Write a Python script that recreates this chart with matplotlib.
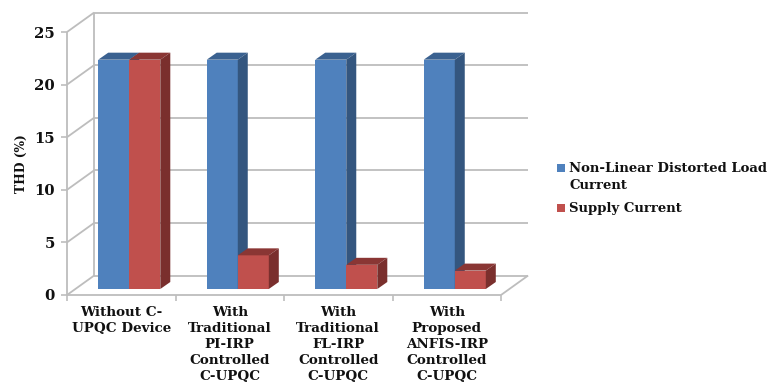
import matplotlib
matplotlib.use('Agg')
import matplotlib.pyplot as plt
from matplotlib.patches import Polygon, Rectangle

categories = ['Without C-\nUPQC Device',
              'With\nTraditional\nPI-IRP\nControlled\nC-UPQC',
              'With\nTraditional\nFL-IRP\nControlled\nC-UPQC',
              'With\nProposed\nANFIS-IRP\nControlled\nC-UPQC']
load_current = [21.8, 21.8, 21.8, 21.8]
supply_current = [21.8, 3.2, 2.3, 1.75]
y_ticks = [0, 5, 10, 15, 20, 25]

BLUE, BLUE_SIDE, BLUE_TOP = '#4F81BD', '#34567F', '#3A6190'
RED, RED_SIDE, RED_TOP = '#C0504D', '#7A2F2D', '#8A3634'
GRID = '#BDBDBD'
INK = '#111111'

plt.rcParams['font.family'] = ['DejaVu Serif']
plt.rcParams['font.weight'] = 'bold'

# the axes is the front plane of the fake 3D box
fig = plt.figure(figsize=(7.72, 3.9), dpi=100)
ax = fig.add_axes([67 / 772, 95 / 390, 434 / 772, 263 / 390])
ax.set_xlim(0, len(categories))
ax.set_ylim(0, 25)
ax.patch.set_visible(False)
for s in ax.spines.values():
    s.set_visible(False)

# depth of the box and of the bars, in data units
wall_dx, wall_dy = 0.25, 1.85
plane_dx, plane_dy = 0.074, 0.57
bar_dx, bar_dy = 0.092, 0.665
bar_w = 0.286


def line(xs, ys, lw=1.3):
    ax.plot(xs, ys, color=GRID, lw=lw, clip_on=False, zorder=1, solid_capstyle='butt')


n = len(categories)
for t in y_ticks:
    line([0, wall_dx], [t, t + wall_dy])
    line([wall_dx, n + wall_dx], [t + wall_dy, t + wall_dy])
line([wall_dx, wall_dx], [wall_dy, 25 + wall_dy])
line([0, 0], [0, 25])
line([0, n], [0, 0])
line([n, n + wall_dx], [0, wall_dy])


def draw_bar(x, val, face, side, top):
    base = plane_dy
    ax.bar(x, val, bar_w, bottom=base, color=face, align='edge', zorder=3, clip_on=False)
    hi = base + val
    ax.add_patch(Polygon([(x, hi), (x + bar_w, hi), (x + bar_w + bar_dx, hi + bar_dy),
                          (x + bar_dx, hi + bar_dy)], color=top, lw=0, zorder=3, clip_on=False))
    ax.add_patch(Polygon([(x + bar_w, base), (x + bar_w + bar_dx, base + bar_dy),
                          (x + bar_w + bar_dx, hi + bar_dy), (x + bar_w, hi)],
                         color=side, lw=0, zorder=3, clip_on=False))


for i in range(n):
    x0 = i + plane_dx + (1 - 2 * bar_w) / 2
    draw_bar(x0, load_current[i], BLUE, BLUE_SIDE, BLUE_TOP)
    draw_bar(x0 + bar_w, supply_current[i], RED, RED_SIDE, RED_TOP)

ax.set_yticks(y_ticks)
ax.set_xticks(range(n + 1))
ax.set_xticklabels([])
ax.tick_params(axis='both', color=GRID, length=4, width=1.2)
ax.tick_params(axis='y', labelsize=10.6, labelcolor=INK, pad=4.6)
for i, c in enumerate(categories):
    ax.annotate(c, (i + 0.5, 0), xytext=(0, -8), textcoords='offset points', ha='center',
                va='top', fontsize=9.7, color=INK, linespacing=1.3, annotation_clip=False)

ax.set_ylabel('THD (%)', fontsize=8.8, fontweight='bold', color=INK, labelpad=4.5)


# legend placed by hand so the key sits next to the first line of a wrapped label
def legend_row(px, py, colour, label):
    fig.add_artist(Rectangle((px / 772, 1 - (py + 4) / 390), 8 / 772, 8 / 390,
                             color=colour, lw=0, transform=fig.transFigure))
    fig.text((px + 12) / 772, 1 - (py - 6) / 390, label, ha='left', va='top',
             fontsize=9.5, color=INK, linespacing=1.35)


legend_row(557, 168, BLUE, 'Non-Linear Distorted Load\nCurrent')
legend_row(557, 208, RED, 'Supply Current')

fig.savefig('out.png', dpi=100)
